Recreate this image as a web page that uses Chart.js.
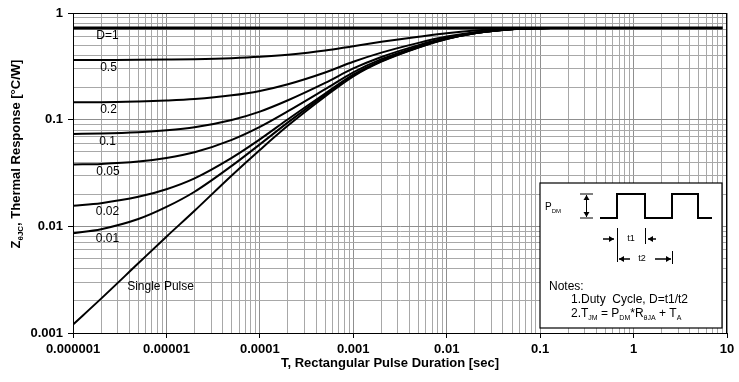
<!DOCTYPE html>
<html>
<head>
<meta charset="utf-8">
<script src="https://cdn.jsdelivr.net/npm/chart.js@4.4.0/dist/chart.umd.min.js"></script>
<style>
  html, body { margin: 0; padding: 0; background: #fff; }
  #wrap { width: 739px; height: 382px; }
</style>
</head>
<body>
<div id="wrap"><canvas id="thermalChart" width="739" height="382"></canvas></div>
<script>
// pulse durations (sec) where the curves were read
const times = [1e-6, 2e-6, 5e-6, 1e-5, 2e-5, 5e-5, 1e-4, 2e-4, 5e-4, 1e-3, 2e-3, 5e-3, 1e-2, 2e-2, 5e-2, 0.1, 0.15];

// thermal response values per duty cycle
const duty05 = [0.362, 0.363, 0.364, 0.366, 0.369, 0.377, 0.388, 0.406, 0.444, 0.489, 0.537, 0.599, 0.647, 0.684, 0.714, 0.722, 0.723];
const duty02 = [0.146, 0.146, 0.148, 0.151, 0.156, 0.169, 0.186, 0.215, 0.277, 0.349, 0.425, 0.525, 0.601, 0.661, 0.709, 0.721, 0.723];
const duty01 = [0.0734, 0.0742, 0.0764, 0.0795, 0.0849, 0.0993, 0.119, 0.152, 0.221, 0.302, 0.387, 0.500, 0.585, 0.653, 0.707, 0.720, 0.723];
const duty005 = [0.038, 0.0385, 0.0405, 0.0438, 0.0495, 0.0647, 0.0856, 0.120, 0.193, 0.278, 0.369, 0.487, 0.578, 0.649, 0.706, 0.720, 0.723];
const duty002 = [0.0156, 0.0165, 0.0189, 0.0223, 0.0282, 0.0439, 0.0654, 0.101, 0.176, 0.264, 0.358, 0.480, 0.573, 0.647, 0.705, 0.720, 0.723];
const duty001 = [0.0086, 0.0094, 0.0117, 0.0152, 0.0211, 0.0369, 0.0587, 0.0943, 0.171, 0.260, 0.354, 0.478, 0.572, 0.646, 0.705, 0.720, 0.723];
const singlePulse = [0.0012, 0.0021, 0.0045, 0.0080, 0.0140, 0.030, 0.052, 0.088, 0.165, 0.255, 0.350, 0.475, 0.570, 0.645, 0.705, 0.720, 0.723];

// D=1 is flat over the whole range
const duty1Times = [1e-6, 9];
const duty1 = [0.723, 0.723];

// axis decades and their labels
const xDecades = [1e-6, 1e-5, 1e-4, 1e-3, 1e-2, 1e-1, 1, 10];
const xTickLabels = ["0.000001", "0.00001", "0.0001", "0.001", "0.01", "0.1", "1", "10"];
const yDecades = [0.001, 0.01, 0.1, 1];
const yTickLabels = ["0.001", "0.01", "0.1", "1"];

// curve names, anchored in data units
const curveNames = ["D=1", "0.5", "0.2", "0.1", "0.05", "0.02", "0.01", "Single Pulse"];
const nameAt = [[2.34e-6, 0.619], [2.4e-6, 0.304], [2.4e-6, 0.123], [2.34e-6, 0.0619], [2.37e-6, 0.0325], [2.34e-6, 0.0137], [2.34e-6, 0.00767], [8.65e-6, 0.00273]];

const FONT = "'Liberation Sans', Arial, sans-serif";

function decadeIndex(list, v) {
    for (let i = 0; i < list.length; i++) {
        if (Math.abs(Math.log10(v) - Math.log10(list[i])) < 1e-6) return i;
    }
    return -1;
}

// 1..9 in every decade, so each minor grid line shows
function logTicks(decades) {
    let ticks = [];
    for (let i = 0; i < decades.length; i++) {
        let step = decades[i];
        let top = i === decades.length - 1 ? 1 : 9;
        for (let m = 1; m <= top; m++) ticks.push({ value: m * step });
    }
    return ticks;
}

function makeSet(label, xs, ys, width) {
    return {
        label: label,
        data: xs.map((t, i) => ({ x: t, y: ys[i] })),
        borderColor: "#000",
        borderWidth: width,
        pointRadius: 0,
        fill: false,
        cubicInterpolationMode: "monotone"
    };
}

// text with subscripts: parts = [[text, isSub], ...]
function richWidth(ctx, parts, size, weight) {
    let w = 0;
    parts.forEach(p => {
        ctx.font = weight + " " + (p[1] ? Math.round(size * 0.62) : size) + "px " + FONT;
        w += ctx.measureText(p[0]).width;
    });
    return w;
}

function drawRich(ctx, parts, x, y, size, weight) {
    ctx.textAlign = "left";
    ctx.textBaseline = "alphabetic";
    parts.forEach(p => {
        ctx.font = weight + " " + (p[1] ? Math.round(size * 0.62) : size) + "px " + FONT;
        ctx.fillText(p[0], x, p[1] ? y + size * 0.25 : y);
        x += ctx.measureText(p[0]).width;
    });
}

function arrow(ctx, x1, y1, x2, y2) {
    let a = Math.atan2(y2 - y1, x2 - x1);
    ctx.beginPath();
    ctx.moveTo(x1, y1);
    ctx.lineTo(x2, y2);
    ctx.stroke();
    ctx.beginPath();
    ctx.moveTo(x2, y2);
    ctx.lineTo(x2 - 5 * Math.cos(a) + 3 * Math.sin(a), y2 - 5 * Math.sin(a) - 3 * Math.cos(a));
    ctx.lineTo(x2 - 5 * Math.cos(a) - 3 * Math.sin(a), y2 - 5 * Math.sin(a) + 3 * Math.cos(a));
    ctx.closePath();
    ctx.fill();
}

function drawInset(ctx, area) {
    let bx = area.right - 187, by = area.top + 170;
    ctx.save();
    ctx.fillStyle = "#fff";
    ctx.fillRect(bx, by, 182, 145);
    ctx.strokeStyle = "#000";
    ctx.lineWidth = 1.2;
    ctx.strokeRect(bx, by, 182, 145);

    ctx.fillStyle = "#000";
    // waveform
    let lo = by + 35, hi = by + 11;
    ctx.lineWidth = 2;
    ctx.beginPath();
    ctx.moveTo(bx + 60, lo);
    ctx.lineTo(bx + 77, lo); ctx.lineTo(bx + 77, hi);
    ctx.lineTo(bx + 105, hi); ctx.lineTo(bx + 105, lo);
    ctx.lineTo(bx + 132, lo); ctx.lineTo(bx + 132, hi);
    ctx.lineTo(bx + 158, hi); ctx.lineTo(bx + 158, lo);
    ctx.lineTo(bx + 172, lo);
    ctx.stroke();

    // P_DM dimension
    ctx.lineWidth = 1;
    ctx.beginPath();
    ctx.moveTo(bx + 40, hi); ctx.lineTo(bx + 53, hi);
    ctx.moveTo(bx + 40, lo); ctx.lineTo(bx + 53, lo);
    ctx.stroke();
    arrow(ctx, bx + 46.5, by + 23, bx + 46.5, hi + 1);
    arrow(ctx, bx + 46.5, by + 23, bx + 46.5, lo - 1);
    drawRich(ctx, [["P", false], ["DM", true]], bx + 5, by + 27, 10, "normal");

    // t1 / t2 markers
    ctx.beginPath();
    ctx.moveTo(bx + 77.5, by + 45); ctx.lineTo(bx + 77.5, by + 79);
    ctx.moveTo(bx + 105.5, by + 45); ctx.lineTo(bx + 105.5, by + 61);
    ctx.moveTo(bx + 132.5, by + 68); ctx.lineTo(bx + 132.5, by + 81);
    ctx.stroke();
    ctx.lineWidth = 1.5;
    arrow(ctx, bx + 63, by + 56, bx + 74, by + 56);
    arrow(ctx, bx + 116, by + 56, bx + 108, by + 56);
    arrow(ctx, bx + 90, by + 76, bx + 79, by + 76);
    arrow(ctx, bx + 115, by + 76, bx + 131, by + 76);
    ctx.font = "9px " + FONT;
    ctx.textAlign = "center";
    ctx.textBaseline = "middle";
    ctx.fillText("t1", bx + 91, by + 56);
    ctx.fillText("t2", bx + 102, by + 76);

    // notes
    drawRich(ctx, [["Notes:", false]], bx + 9, by + 107, 12, "normal");
    drawRich(ctx, [["1.Duty  Cycle, D=t1/t2", false]], bx + 31, by + 120, 12, "normal");
    drawRich(ctx, [["2.T", false], ["JM", true], [" = P", false], ["DM", true], ["*R", false], ["\u03B8JA", true], [" + T", false], ["A", true]], bx + 31, by + 134, 12, "normal");
    ctx.restore();
}

const decorations = {
    id: "decorations",
    beforeDatasetsDraw(chart) {
        let a = chart.chartArea;
        let ctx = chart.ctx;
        ctx.save();
        ctx.strokeStyle = "#000";
        ctx.lineWidth = 1;
        ctx.strokeRect(a.left + 0.5, a.top + 0.5, a.right - a.left - 1, a.bottom - a.top);
        ctx.restore();
    },
    afterDraw(chart) {
        let ctx = chart.ctx;
        let xs = chart.scales.x, ys = chart.scales.y;
        ctx.save();
        ctx.fillStyle = "#000";

        // curve names
        ctx.font = "12px " + FONT;
        ctx.textAlign = "center";
        ctx.textBaseline = "middle";
        curveNames.forEach((n, i) => {
            ctx.fillText(n, xs.getPixelForValue(nameAt[i][0]), ys.getPixelForValue(nameAt[i][1]));
        });

        // x title
        ctx.font = "bold 13px " + FONT;
        ctx.fillText("T, Rectangular Pulse Duration [sec]", 390, 363);

        // y title, rotated, with subscript
        let parts = [["Z", false], ["\u03B8JC", true], [", Thermal Response [\u00B0C/W]", false]];
        ctx.translate(15, 154);
        ctx.rotate(-Math.PI / 2);
        let w = richWidth(ctx, parts, 13, "bold");
        drawRich(ctx, parts, -w / 2, 5, 13, "bold");
        ctx.restore();

        drawInset(ctx, chart.chartArea);
    }
};

let datasets = [
    makeSet("D=1", duty1Times, duty1, 3),
    makeSet("0.5", times, duty05, 2),
    makeSet("0.2", times, duty02, 2),
    makeSet("0.1", times, duty01, 2),
    makeSet("0.05", times, duty005, 2),
    makeSet("0.02", times, duty002, 2),
    makeSet("0.01", times, duty001, 2),
    makeSet("Single Pulse", times, singlePulse, 2)
];

function gridColor(list) {
    return c => (c.tick && decadeIndex(list, c.tick.value) >= 0) ? "#8f8f8f" : "#a8a8a8";
}
function tickMarkColor(list) {
    return c => (c.tick && decadeIndex(list, c.tick.value) >= 0) ? "#000" : "rgba(0,0,0,0)";
}

new Chart(document.getElementById("thermalChart"), {
    type: "line",
    data: { datasets: datasets },
    plugins: [decorations],
    options: {
        responsive: false,
        animation: false,
        devicePixelRatio: 1,
        layout: { padding: { left: 0, top: 13, right: 12, bottom: 0 } },
        plugins: { legend: { display: false }, tooltip: { enabled: false } },
        scales: {
            x: {
                type: "logarithmic",
                min: 1e-6,
                max: 10,
                afterBuildTicks: s => { s.ticks = logTicks(xDecades); },
                afterFit: s => { s.height = 49; },
                border: { display: true, color: "#000", width: 1 },
                grid: { color: gridColor(xDecades), tickColor: tickMarkColor(xDecades), tickLength: 5, lineWidth: 1 },
                ticks: {
                    autoSkip: false,
                    maxRotation: 0,
                    padding: 4,
                    color: "#000",
                    font: { family: FONT, size: 13, weight: "bold" },
                    callback: v => {
                        let i = decadeIndex(xDecades, v);
                        return i >= 0 ? xTickLabels[i] : "";
                    }
                }
            },
            y: {
                type: "logarithmic",
                min: 0.001,
                max: 1,
                afterBuildTicks: s => { s.ticks = logTicks(yDecades); },
                afterFit: s => { s.width = 73; },
                border: { display: true, color: "#000", width: 1 },
                grid: { color: gridColor(yDecades), tickColor: tickMarkColor(yDecades), tickLength: 5, lineWidth: 1 },
                ticks: {
                    autoSkip: false,
                    padding: 5,
                    color: "#000",
                    font: { family: FONT, size: 13, weight: "bold" },
                    callback: v => {
                        let i = decadeIndex(yDecades, v);
                        return i >= 0 ? yTickLabels[i] : "";
                    }
                }
            }
        }
    }
});
</script>
</body>
</html>
